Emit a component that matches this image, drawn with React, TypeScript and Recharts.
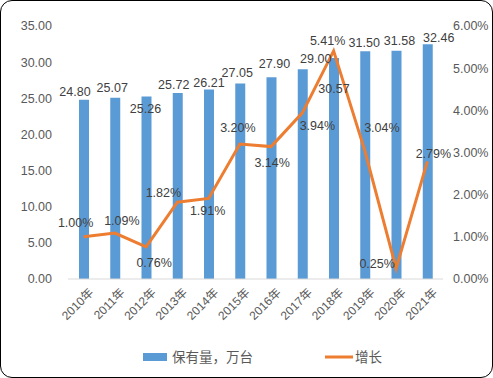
import { ComposedChart, Bar, Line, XAxis, YAxis, Legend, LabelList } from 'recharts';

const years = ['2010年', '2011年', '2012年', '2013年', '2014年', '2015年', '2016年', '2017年', '2018年', '2019年', '2020年', '2021年'];
// 保有量，万台
const stock = [24.8, 25.07, 25.26, 25.72, 26.21, 27.05, 27.9, 29.0, 30.57, 31.5, 31.58, 32.46];
// 增长 (%)
const growth = [1.0, 1.09, 0.76, 1.82, 1.91, 3.2, 3.14, 3.94, 5.41, 3.04, 0.25, 2.79];
const leftTicks = [0, 5, 10, 15, 20, 25, 30, 35];
const rightTicks = [0, 1, 2, 3, 4, 5, 6];

const data = years.map((year, i) => ({ year, stock: stock[i], growth: growth[i] }));

// label nudges (center of text relative to bar top / line point), like the hand-placed excel labels
const BAR_LABEL_OFFSET = [
  [-9, -8], [-3, -10], [-1, 13], [-4, -8], [0, -7], [-3, -10],
  [3, -13], [13, -10], [0, 31], [-1, -8], [3, -10], [11, -6]
];
const LINE_LABEL_OFFSET = [
  [-8, -14], [7, -12], [8, 16], [-14, -9], [-1, 13], [-2, -16],
  [1, 16], [15, 13], [-6, -10], [17, -23], [-19, -4], [6, -7]
];

const FONT = '"Liberation Sans", "Noto Sans CJK SC", sans-serif';
const BLUE = '#5B9BD5';
const ORANGE = '#ED7D31';
const TICK = '#595959';
const LABEL = '#404040';

function pick(props: any) {
  const vb = props.viewBox || {};
  const x = props.x ?? vb.x;
  const y = props.y ?? vb.y;
  const width = props.width ?? vb.width ?? 0;
  return { x: Number(x), y: Number(y), width: Number(width) };
}

const renderBarLabel = (props: any) => {
  const { x, y, width } = pick(props);
  const [dx, dy] = BAR_LABEL_OFFSET[props.index] || [0, -9];
  return (
    <text x={x + width / 2 + dx} y={y + dy} textAnchor="middle" dominantBaseline="central"
      fill={LABEL} fontSize={12.5} fontFamily={FONT}>
      {Number(props.value).toFixed(2)}
    </text>
  );
};

const renderLineLabel = (props: any) => {
  const { x, y } = pick(props);
  const [dx, dy] = LINE_LABEL_OFFSET[props.index] || [0, -12];
  return (
    <text x={x + dx} y={y + dy} textAnchor="middle" dominantBaseline="central"
      fill={LABEL} fontSize={12.5} fontFamily={FONT}>
      {Number(props.value).toFixed(2) + '%'}
    </text>
  );
};

const YearTick = (props: any) => {
  const { x, y, payload } = props;
  return (
    <g transform={`translate(${x},${y})`}>
      <text x={3} y={8} textAnchor="end" transform="rotate(-45)" fill={TICK}
        fontSize={12} fontFamily={FONT} dominantBaseline="central">
        {payload.value}
      </text>
    </g>
  );
};

const renderLegend = () => (
  <svg width={491} height={20} style={{ display: 'block' }}>
    <rect x={142} y={6} width={24} height={8} fill={BLUE} />
    <text x={171} y={10} dominantBaseline="central" fill={TICK} fontSize={13.5} fontFamily={FONT}>
      保有量，万台
    </text>
    <line x1={324} x2={352} y1={10} y2={10} stroke={ORANGE} strokeWidth={3} />
    <text x={354} y={10} dominantBaseline="central" fill={TICK} fontSize={13.5} fontFamily={FONT}>
      增长
    </text>
  </svg>
);

export default function App() {
  return (
    <div
      style={{
        position: 'absolute',
        left: 0,
        top: 0,
        width: 493,
        height: 378,
        boxSizing: 'border-box',
        border: '1px solid #000',
        borderRadius: 12,
        background: '#fff',
        overflow: 'hidden'
      }}
    >
      <ComposedChart width={491} height={376} data={data} margin={{ top: 25, right: 0, left: 0, bottom: 10 }}>
        <XAxis
          dataKey="year"
          tick={<YearTick />}
          tickLine={false}
          axisLine={{ stroke: '#D9D9D9' }}
          interval={0}
          height={68}
        />
        <YAxis
          yAxisId="left"
          width={67}
          domain={[0, 35]}
          ticks={leftTicks}
          tickFormatter={(v: number) => v.toFixed(2)}
          tick={{ fill: TICK, fontSize: 12.5, fontFamily: FONT }}
          tickLine={false}
          axisLine={false}
          tickSize={0}
          tickMargin={16}
        />
        <YAxis
          yAxisId="right"
          orientation="right"
          width={49}
          domain={[0, 6]}
          ticks={rightTicks}
          tickFormatter={(v: number) => v.toFixed(2) + '%'}
          tick={{ fill: TICK, fontSize: 12.5, fontFamily: FONT, textAnchor: 'start' }}
          tickLine={false}
          axisLine={false}
          tickSize={0}
          tickMargin={10}
        />
        <Legend verticalAlign="bottom" height={20} content={renderLegend} />
        <Bar yAxisId="left" dataKey="stock" fill={BLUE} barSize={10} isAnimationActive={false}>
          <LabelList dataKey="stock" content={renderBarLabel} />
        </Bar>
        <Line
          yAxisId="right"
          dataKey="growth"
          stroke={ORANGE}
          strokeWidth={3}
          dot={false}
          activeDot={false}
          isAnimationActive={false}
        >
          <LabelList dataKey="growth" content={renderLineLabel} />
        </Line>
      </ComposedChart>
    </div>
  );
}
